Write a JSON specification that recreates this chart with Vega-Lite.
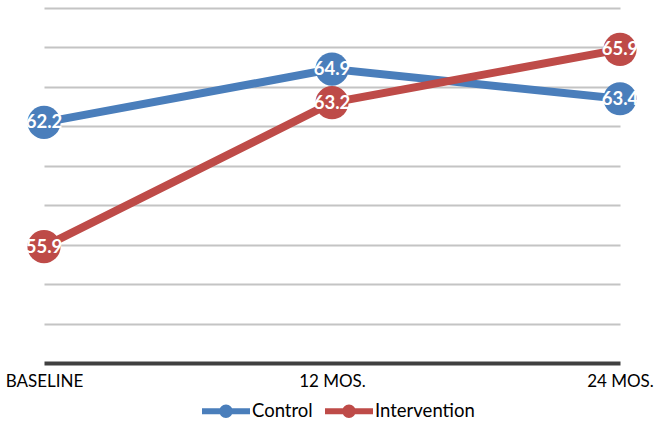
{
  "$schema": "https://vega.github.io/schema/vega-lite/v6.json",
  "width": 576,
  "height": 355,
  "autosize": {"type": "none"},
  "padding": {"left": 44, "top": 8, "right": 43, "bottom": 63},
  "background": "white",
  "config": {
    "view": {"stroke": null},
    "font": "Lato"
  },
  "data": {
    "values": [
      {"time": "BASELINE", "group": "Control", "value": 62.2},
      {"time": "12 MOS.", "group": "Control", "value": 64.9},
      {"time": "24 MOS.", "group": "Control", "value": 63.4},
      {"time": "BASELINE", "group": "Intervention", "value": 55.9},
      {"time": "12 MOS.", "group": "Intervention", "value": 63.2},
      {"time": "24 MOS.", "group": "Intervention", "value": 65.9}
    ]
  },
  "encoding": {
    "x": {
      "field": "time",
      "type": "ordinal",
      "sort": ["BASELINE", "12 MOS.", "24 MOS."],
      "scale": {"type": "point", "padding": 0},
      "axis": {
        "title": null,
        "labelAngle": 0,
        "labelFontSize": 17,
        "labelColor": "#000000",
        "labelPadding": 10,
        "ticks": false,
        "domainColor": "#404040",
        "domainWidth": 4,
        "grid": false
      }
    },
    "y": {
      "field": "value",
      "type": "quantitative",
      "scale": {"domain": [50, 68], "nice": false, "zero": false},
      "axis": {
        "title": null,
        "labels": false,
        "ticks": false,
        "domain": false,
        "values": [52, 54, 56, 58, 60, 62, 64, 66, 68],
        "gridColor": "#c4c4c4",
        "gridWidth": 2
      }
    },
    "color": {
      "field": "group",
      "type": "nominal",
      "scale": {"domain": ["Control", "Intervention"], "range": ["#4A7EBB", "#BE4B48"]},
      "legend": {
        "title": null,
        "orient": "none",
        "direction": "horizontal",
        "legendX": 158,
        "legendY": 379,
        "labelFontSize": 18.5,
        "labelColor": "#000000",
        "labelOffset": 2,
        "columnPadding": 12,
        "symbolSize": 2304,
        "symbolType": "M-1,-0.12H1V0.12H-1Z M-0.28,0A0.28,0.28 0 1,1 0.28,0A0.28,0.28 0 1,1 -0.28,0Z",
        "symbolStrokeWidth": 0,
        "encode": {
          "symbols": {
            "update": {
              "fill": {"scale": "color", "field": "value"},
              "stroke": {"value": "transparent"},
              "strokeWidth": {"value": 0}
            }
          }
        }
      }
    }
  },
  "layer": [
    {
      "mark": {"type": "line", "strokeWidth": 8}
    },
    {
      "mark": {"type": "point", "filled": true, "size": 1100, "opacity": 1}
    },
    {
      "mark": {"type": "text", "color": "white", "fontWeight": "bold", "fontSize": 18.5, "baseline": "middle", "align": "center"},
      "encoding": {
        "text": {"field": "value", "type": "quantitative", "format": ".1f"},
        "color": {"value": "white"}
      }
    }
  ]
}
